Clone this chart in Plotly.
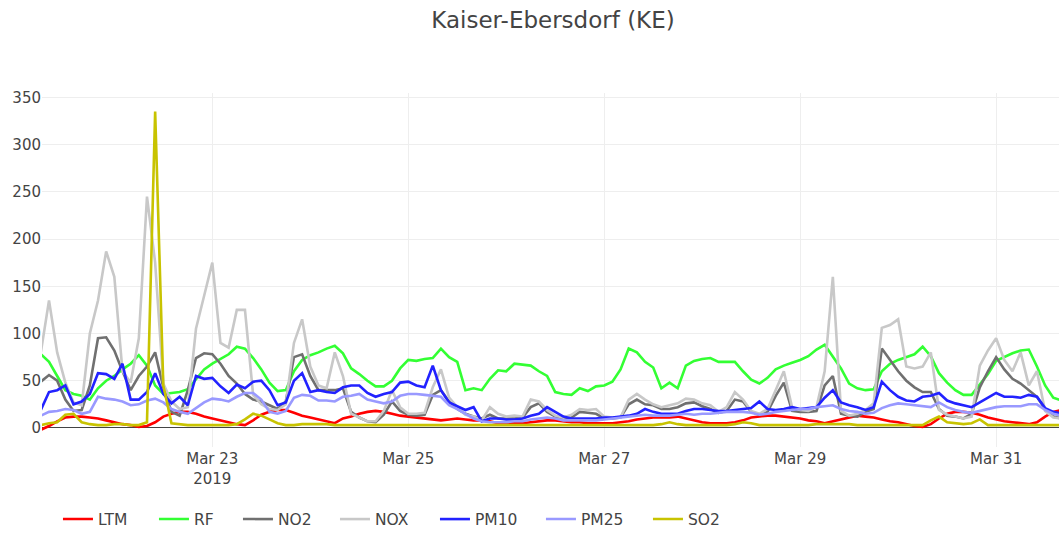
import pandas as pd
import plotly.graph_objects as go

# 2-hourly samples from 2019-03-21 06:00
start_time = "2019-03-21 06:00"
step = "2h"

LTM = [-2, 2, 7, 11, 12, 12, 11, 10, 8, 6, 4, 3, 1, 2, 6, 12, 15, 17, 17, 15, 12, 10, 8, 6, 4, 3, 8, 14, 17, 19, 19, 16,
       13, 11, 9, 7, 5, 10, 12, 15, 17, 18, 17, 15, 13, 12, 11, 10, 9, 8, 9, 10, 9, 8, 8,
       7, 5, 5, 5, 5, 6, 7, 8, 8, 7, 6, 6, 5, 5, 5, 5, 6, 7, 9, 10, 11, 11, 11,
       12, 10, 8, 6, 5, 5, 5, 6, 8, 11, 12, 13, 13, 12, 11, 10, 8, 7, 5, 7, 9, 11, 13,
       12, 11, 9, 7, 6, 4, 2, 1, 4, 10, 15, 17, 17, 16, 14, 11, 9, 7, 6, 5, 4, 6, 12, 17, 19]

RF = [78, 70, 55, 40, 36, 34, 30, 42, 50, 55, 62, 68, 77, 66, 45, 36, 37, 38, 41, 52, 62, 68, 73, 78, 86, 84, 74, 62, 48, 39, 40, 60,
      72, 77, 80, 84, 87, 79, 63, 57, 50, 44, 44, 50, 63, 72, 71, 73, 74, 84, 75, 70, 40, 42, 40,
      52, 61, 60, 68, 67, 66, 60, 55, 38, 36, 35, 42, 39, 44, 45, 49, 62, 84, 80, 70, 64, 42, 48,
      42, 66, 71, 73, 74, 70, 70, 70, 60, 51, 47, 53, 62, 66, 69, 72, 76, 83, 88, 75, 63, 47, 42,
      40, 41, 60, 68, 72, 75, 78, 86, 76, 58, 48, 40, 35, 35, 46, 57, 71, 75, 79, 82, 83, 65, 45, 32, 29]

NO2 = [49, 56, 50, 30, 18, 19, 45, 95, 96, 82, 60, 40, 55, 65, 80, 43, 17, 13, 40, 74, 79, 78, 68, 55, 47, 36, 30, 28, 24, 20, 28, 75,
       78, 55, 40, 40, 40, 42, 17, 11, 7, 6, 14, 28, 18, 14, 13, 14, 35, 40, 28, 20, 15, 12, 10,
       14, 10, 10, 10, 11, 22, 26, 17, 12, 10, 11, 17, 16, 15, 10, 10, 11, 25, 30, 25, 24, 20, 20,
       22, 26, 27, 23, 20, 16, 18, 30, 28, 17, 14, 17, 34, 48, 18, 17, 17, 18, 45, 55, 15, 13, 12,
       17, 20, 84, 72, 60, 50, 43, 38, 38, 20, 13, 12, 10, 15, 43, 60, 75, 62, 52, 47, 40, 33, 20, 12, 10]

NOX = [80, 135, 80, 48, 27, 24, 100, 135, 187, 160, 60, 48, 95, 245, 175, 47, 28, 20, 22, 105, 140, 175, 90, 85, 125, 125, 35, 25, 20, 19, 25, 90,
       115, 65, 45, 42, 80, 55, 15, 11, 7, 7, 18, 40, 22, 15, 15, 16, 43, 62, 32, 22, 14, 12, 8,
       22, 15, 12, 13, 12, 30, 28, 19, 13, 11, 14, 20, 19, 20, 12, 11, 11, 30, 36, 30, 25, 22, 24,
       26, 31, 30, 26, 24, 17, 22, 38, 30, 18, 15, 20, 40, 60, 22, 19, 18, 22, 60, 160, 18, 13, 15,
       19, 26, 106, 109, 115, 65, 63, 65, 80, 19, 14, 12, 10, 12, 66, 82, 95, 72, 60, 80, 45, 60, 18, 11, 10]

PM10 = [19, 38, 40, 45, 25, 28, 36, 58, 57, 52, 68, 30, 30, 38, 58, 36, 26, 33, 24, 55, 52, 53, 44, 37, 46, 42, 49, 50, 40, 24, 27, 50,
        58, 38, 40, 38, 37, 43, 45, 45, 37, 33, 36, 38, 48, 49, 45, 43, 66, 40, 27, 23, 19, 22, 7,
        10, 10, 9, 9, 10, 13, 15, 22, 17, 12, 10, 10, 10, 10, 11, 11, 12, 13, 15, 20, 17, 15, 15,
        15, 18, 20, 20, 19, 18, 18, 19, 20, 21, 28, 20, 19, 20, 22, 20, 21, 22, 32, 40, 27, 24, 22,
        19, 22, 49, 40, 33, 29, 28, 33, 34, 37, 29, 26, 24, 22, 27, 32, 37, 33, 33, 32, 35, 33, 21, 17, 15]

PM25 = [13, 17, 18, 20, 19, 15, 17, 33, 31, 30, 28, 24, 25, 29, 31, 27, 20, 17, 15, 21, 27, 31, 30, 28, 33, 37, 37, 30, 17, 15, 18, 32,
        35, 34, 29, 29, 28, 33, 34, 36, 30, 28, 26, 28, 34, 36, 36, 35, 34, 33, 24, 20, 15, 10, 7,
        6, 6, 6, 7, 7, 9, 10, 11, 10, 8, 8, 8, 8, 8, 9, 10, 11, 12, 13, 14, 13, 13, 13,
        14, 15, 14, 15, 15, 16, 17, 17, 17, 16, 14, 15, 17, 18, 19, 20, 20, 22, 23, 24, 20, 18, 17,
        15, 16, 21, 24, 26, 25, 24, 23, 22, 27, 22, 19, 17, 16, 18, 20, 22, 23, 23, 23, 25, 25, 19, 15, 13]

SO2 = [3, 5, 6, 14, 15, 6, 4, 3, 3, 4, 4, 3, 3, 6, 335, 45, 5, 4, 3, 3, 3, 3, 3, 3, 4, 9, 15, 13, 9, 5, 3, 3,
       4, 4, 4, 4, 3, 3, 3, 3, 3, 3, 3, 3, 3, 3, 3, 3, 3, 3, 3, 3, 3, 3, 3,
       3, 3, 3, 3, 3, 3, 3, 3, 3, 3, 3, 3, 3, 3, 3, 3, 3, 3, 3, 3, 3, 4, 6,
       4, 3, 3, 3, 3, 3, 3, 4, 6, 5, 3, 3, 3, 3, 3, 3, 3, 4, 4, 4, 4, 4, 3,
       3, 3, 3, 3, 3, 3, 3, 3, 8, 12, 6, 5, 4, 5, 9, 3, 3, 3, 3, 3, 3, 3, 3, 3, 3]

series_names = ["LTM", "RF", "NO2", "NOX", "PM10", "PM25", "SO2"]
series_values = [LTM, RF, NO2, NOX, PM10, PM25, SO2]
colors = ["#ff0000", "#33ff33", "#707070", "#c8c8c8", "#2222ff", "#9999ff", "#c8c300"]
legend_widths = [51, 39, 52, 55, 61, 62, 50]

times = pd.date_range(start_time, periods=len(LTM), freq=step)

FONT = "DejaVu Sans, Verdana, sans-serif"

fig = go.Figure()
for name, vals, col, lw in zip(series_names, series_values, colors, legend_widths):
    fig.add_trace(go.Scatter(x=times, y=vals, mode="lines", name=name,
                             line=dict(color=col, width=2.6), legendwidth=lw))

fig.update_layout(
    template="none",
    width=1059, height=533,
    margin=dict(l=42, r=0, t=93, b=86, autoexpand=False),
    paper_bgcolor="white", plot_bgcolor="white",
    font=dict(family=FONT, size=15, color="#444"),
    title=dict(text="Kaiser-Ebersdorf (KE)", x=553 / 1059, xanchor="center",
               y=1 - 20 / 533, yanchor="middle", font=dict(family=FONT, size=23, color="#444")),
    xaxis=dict(type="date", range=["2019-03-21 06:17", "2019-03-31 15:24"],
               tick0="2019-03-23", dtick=172800000, showgrid=True, gridcolor="#eee", gridwidth=1.3,
               zeroline=False, showline=False, ticks="", tickfont=dict(size=15),
               ticklabelstandoff=1),
    yaxis=dict(range=[-20.2, 354.7], tick0=0, dtick=50, showgrid=True, gridcolor="#eee", gridwidth=1.3,
               zeroline=True, zerolinecolor="#444", zerolinewidth=1.3, showline=False, ticks="",
               tickfont=dict(size=15)),
    legend=dict(orientation="h", x=0.0157, xanchor="left", y=-0.2048, yanchor="middle",
                font=dict(size=15.5), bgcolor="rgba(0,0,0,0)"),
    showlegend=True,
)

fig.write_html("out.html", config={"displayModeBar": False},
               post_script="document.body.style.margin='0';")
